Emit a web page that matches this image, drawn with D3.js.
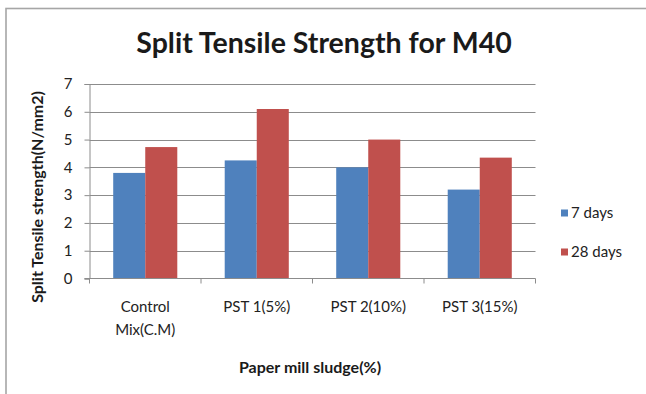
<!DOCTYPE html>
<html>
<head>
<meta charset="utf-8">
<script src="https://cdn.jsdelivr.net/npm/d3@7/dist/d3.min.js"></script>
<style>
  html, body { margin: 0; padding: 0; background: #fff; }
  svg { display: block; font-family: Lato, "Open Sans", sans-serif; }
</style>
</head>
<body>
<svg id="chart" width="646" height="394"></svg>
<script>
// Split tensile strength (N/mm2) at 7 and 28 days
const categories = ["Control\nMix(C.M)", "PST 1(5%)", "PST 2(10%)", "PST 3(15%)"];
const seriesNames = ["7 days", "28 days"];
const days7 = [3.8, 4.25, 4.0, 3.2];
const days28 = [4.73, 6.1, 5.0, 4.35];
const yTicks = [0, 1, 2, 3, 4, 5, 6, 7];
const colors = ["#4F81BD", "#C0504D"];

const svg = d3.select("#chart");
const W = 646, H = 394;
const plot = { left: 89.5, right: 535.5, top: 84, bottom: 278.5 };
const labelSize = 15;

// Outer chart frame (only top and left edges fall inside the view)
svg.append("rect")
  .attr("x", 6).attr("y", 8.5)
  .attr("width", W + 20).attr("height", H + 20)
  .attr("fill", "#fff").attr("stroke", "#a6a6a6").attr("stroke-width", 1.6);

const x0 = d3.scaleBand().domain(categories).range([plot.left, plot.right]).paddingInner(0).paddingOuter(0);
const x1 = d3.scaleBand().domain(seriesNames).range([0, x0.bandwidth()]).paddingInner(0).paddingOuter(0.74);
const y = d3.scaleLinear().domain([0, 7]).range([plot.bottom, plot.top]);

// Horizontal gridlines
svg.append("g")
  .selectAll("line").data(yTicks.filter(d => d > 0)).join("line")
  .attr("x1", plot.left).attr("x2", plot.right)
  .attr("y1", d => Math.round(y(d)) + 0.5).attr("y2", d => Math.round(y(d)) + 0.5)
  .attr("stroke", "#8c8c8c").attr("stroke-width", 1);

// Bars
const rows = categories.map((c, i) => ({ cat: c, vals: [days7[i], days28[i]] }));
svg.append("g")
  .selectAll("g").data(rows).join("g")
  .attr("transform", d => `translate(${x0(d.cat)},0)`)
  .selectAll("rect").data(d => d.vals.map((v, j) => ({ v, s: seriesNames[j], j })))
  .join("rect")
  .attr("x", d => x1(d.s))
  .attr("width", x1.bandwidth())
  .attr("y", d => y(d.v))
  .attr("height", d => y(0) - y(d.v))
  .attr("fill", d => colors[d.j]);

// Y axis
const yAxis = svg.append("g")
  .attr("transform", `translate(${plot.left},0)`)
  .call(d3.axisLeft(y).tickValues(yTicks).tickSize(5).tickPadding(12).tickFormat(d3.format("d")));
yAxis.select(".domain").attr("stroke", "#8c8c8c");
yAxis.selectAll(".tick line").attr("stroke", "#8c8c8c");
yAxis.selectAll(".tick text").attr("font-size", labelSize).attr("fill", "#222")
  .attr("font-family", "Lato, sans-serif");

// X axis with ticks at category boundaries
const xg = svg.append("g").attr("transform", `translate(0,${plot.bottom})`);
xg.append("line").attr("x1", plot.left - 5).attr("x2", plot.right)
  .attr("stroke", "#8c8c8c");
const bounds = categories.map(c => x0(c)).concat([plot.right]);
xg.selectAll("line.tk").data(bounds).join("line").attr("class", "tk")
  .attr("x1", d => d).attr("x2", d => d).attr("y1", 0).attr("y2", 5)
  .attr("stroke", "#8c8c8c");
const catText = xg.selectAll("text").data(categories).join("text")
  .attr("x", d => x0(d) + x0.bandwidth() / 2)
  .attr("text-anchor", "middle")
  .attr("font-size", labelSize).attr("fill", "#222");
catText.each(function(d) {
  const t = d3.select(this);
  d.split("\n").forEach((line, i) => {
    t.append("tspan").attr("x", x0(d) + x0.bandwidth() / 2).attr("y", 33.5 + i * 23).text(line);
  });
});

// Title
svg.append("text")
  .attr("x", 324).attr("y", 53)
  .attr("text-anchor", "middle")
  .attr("font-size", 28.5).attr("font-weight", "bold").attr("fill", "#1a1a1a")
  .text("Split Tensile Strength for M40");

// Axis titles
svg.append("text")
  .attr("transform", "translate(43,197) rotate(-90)")
  .attr("text-anchor", "middle")
  .attr("font-size", 16).attr("font-weight", "bold").attr("fill", "#1a1a1a")
  .text("Split Tensile strength(N/mm2)");

svg.append("text")
  .attr("x", 310).attr("y", 373)
  .attr("text-anchor", "middle")
  .attr("font-size", 16).attr("font-weight", "bold").attr("fill", "#1a1a1a")
  .text("Paper mill sludge(%)");

// Legend
const legend = svg.append("g").attr("transform", "translate(561,0)");
const ly = [213, 252];
seriesNames.forEach((s, i) => {
  legend.append("rect").attr("x", 0).attr("y", ly[i] - 3.5).attr("width", 7).attr("height", 7)
    .attr("fill", colors[i]);
  legend.append("text").attr("x", 10).attr("y", ly[i] + 5)
    .attr("font-size", labelSize).attr("fill", "#222").text(s);
});
</script>
</body>
</html>
